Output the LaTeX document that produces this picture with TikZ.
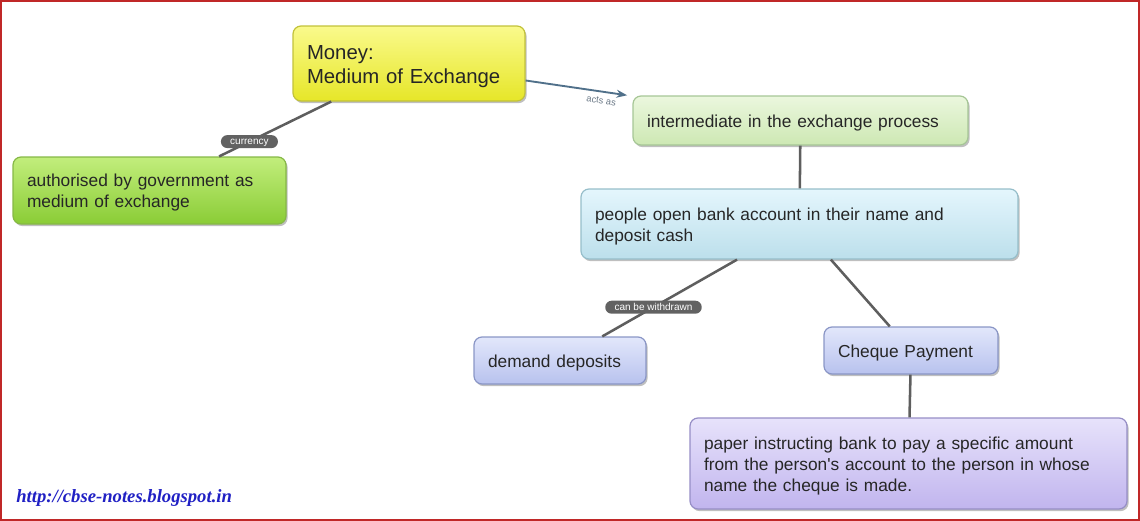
\documentclass[tikz,border=0pt]{standalone}
\usepackage{fontspec}
\setmainfont{Liberation Sans}
\newfontfamily\urlfont{Liberation Serif}
\usetikzlibrary{arrows.meta, shadows}

\definecolor{moneytop}{HTML}{FAFA8C}
\definecolor{moneybot}{HTML}{E6E628}
\definecolor{moneyline}{HTML}{C2C23A}
\definecolor{authtop}{HTML}{C2EE7C}
\definecolor{authbot}{HTML}{8ACC36}
\definecolor{authline}{HTML}{86B846}
\definecolor{intertop}{HTML}{EBF7DE}
\definecolor{interbot}{HTML}{CDE8B3}
\definecolor{interline}{HTML}{A6C696}
\definecolor{peopletop}{HTML}{E4F6FD}
\definecolor{peoplebot}{HTML}{BCDFEB}
\definecolor{peopleline}{HTML}{96BECA}
\definecolor{deptop}{HTML}{E2E7FB}
\definecolor{depbot}{HTML}{B8C2EE}
\definecolor{depline}{HTML}{8A96C6}
\definecolor{papertop}{HTML}{E7E2FB}
\definecolor{paperbot}{HTML}{C1B5EE}
\definecolor{paperline}{HTML}{968EC6}
\definecolor{linkgray}{HTML}{5E5E5E}
\definecolor{pillgray}{HTML}{626262}
\definecolor{arrowblue}{HTML}{50708A}
\definecolor{actsgray}{HTML}{6A7886}
\definecolor{framered}{HTML}{C02828}
\definecolor{urlblue}{HTML}{2020C4}

\begin{document}
\begin{tikzpicture}[
    x=0.75pt, y=-0.75pt,
    conceptbox/.style={rectangle, rounded corners=6pt, line width=0.9pt, align=left, inner xsep=10.5pt, text=black!85, text height=13pt, font=\fontsize{13}{15.75}\selectfont, drop shadow={shadow xshift=1.2pt, shadow yshift=-1.6pt, fill=black, opacity=0.25}},
    yellowbox/.style={conceptbox, draw=moneyline, top color=moneytop, bottom color=moneybot},
    greenbox/.style={conceptbox, draw=authline, top color=authtop, bottom color=authbot},
    palebox/.style={conceptbox, draw=interline, top color=intertop, bottom color=interbot},
    bluebox/.style={conceptbox, draw=peopleline, top color=peopletop, bottom color=peoplebot},
    depbox/.style={conceptbox, draw=depline, top color=deptop, bottom color=depbot},
    paperbox/.style={conceptbox, draw=paperline, top color=papertop, bottom color=paperbot},
    link/.style={draw=linkgray, line width=1.9pt},
    arrow/.style={-{Stealth[length=8pt, width=6pt]}, draw=arrowblue, line width=1.4pt, shorten >=4pt},
    pill/.style={fill=pillgray, text=white, rounded corners=4.8pt, font=\fontsize{7.5}{9}\selectfont, text height=5.6pt, text depth=1.4pt, inner xsep=7pt, inner ysep=1pt, minimum height=9.75pt},
    urltext/.style={text=urlblue, font=\urlfont\bfseries\itshape\fontsize{14}{16}\selectfont, inner sep=0pt}
]
\useasboundingbox (0,0) rectangle (1140,521);

% Frame
\draw[framered, line width=1.2pt] (1,1) rectangle (1139,520);

% Top: money
\node[yellowbox, text width=153pt, minimum height=56.25pt, text height=14.8pt, font=\fontsize{15.25}{18}\selectfont] (money) at (409,63.5) {Money:\\Medium of Exchange};
\node[greenbox, text width=183.75pt, minimum height=50.25pt] (auth) at (149.5,190.5) {authorised by government as\\medium of exchange};
\node[palebox, text width=230.25pt, minimum height=36.75pt, text height=12.5pt] (inter) at (800.5,120.5) {intermediate in the exchange process};

% Middle: bank account
\node[bluebox, text width=306.75pt, minimum height=52.5pt] (people) at (799.5,224) {people open bank account in their name and\\deposit cash};
\node[depbox, text width=108pt, minimum height=35.25pt, text height=12.5pt] (demand) at (560,360.5) {demand deposits};
\node[depbox, text width=109.5pt, minimum height=35.25pt, text height=12.5pt] (cheque) at (911,350.5) {Cheque Payment};

% Bottom: cheque
\node[paperbox, text width=306.75pt, minimum height=68.25pt, text height=13.5pt] (paper) at (908.5,463.5) {paper instructing bank to pay a specific amount\\from the person\textquotesingle s account to the person in whose\\name the cheque is made.};

\node[urltext, anchor=west] (url) at (16,498) {http://cbse-notes.blogspot.in};

% Connections
\draw[link] (money) -- node[pill, pos=0.73] {currency} (auth);
\draw[arrow] (money) -- node[pos=0.72, below=0.5pt, sloped, font=\fontsize{7}{8}\selectfont, text=actsgray] {acts as} (inter);
\draw[link] (inter) -- (people);
\draw[link] (people) -- node[pill, pos=0.62] {can be withdrawn} (demand);
\draw[link] (people) -- (cheque);
\draw[link] (cheque) -- (paper);

\end{tikzpicture}
\end{document}
